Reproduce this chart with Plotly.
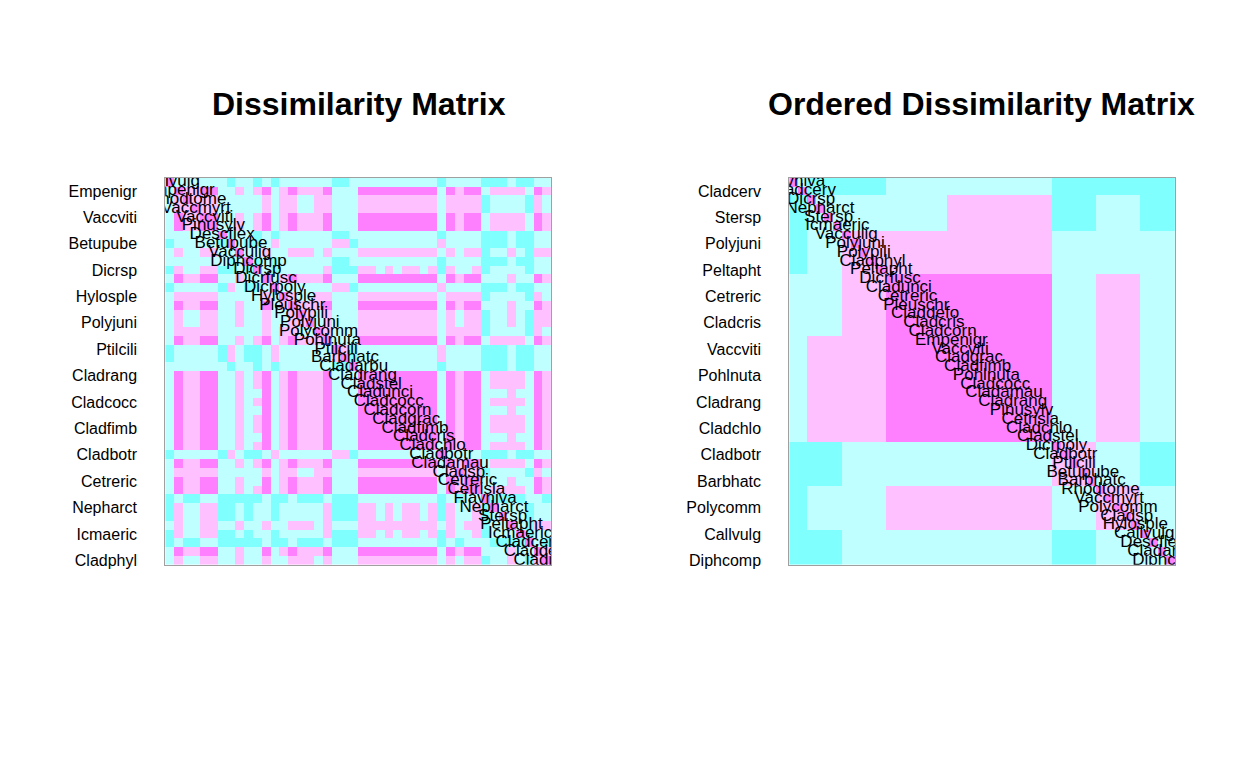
import numpy as np
import plotly.graph_objects as go

# species in original (varespec) order
species = ["Callvulg", "Empenigr", "Rhodtome", "Vaccmyrt", "Vaccviti", "Pinusylv", "Descflex",
           "Betupube", "Vacculig", "Diphcomp", "Dicrsp", "Dicrfusc", "Dicrpoly", "Hylosple",
           "Pleuschr", "Polypili", "Polyjuni", "Polycomm", "Pohlnuta", "Ptilcili", "Barbhatc",
           "Cladarbu", "Cladrang", "Cladstel", "Cladunci", "Cladcocc", "Cladcorn", "Cladgrac",
           "Cladfimb", "Cladcris", "Cladchlo", "Cladbotr", "Cladamau", "Cladsp", "Cetreric",
           "Cetrisla", "Flavniva", "Nepharct", "Stersp", "Peltapht", "Icmaeric", "Cladcerv",
           "Claddefo", "Cladphyl"]

# seriated order (right panel)
ordered = ["Flavniva", "Cladcerv", "Dicrsp", "Nepharct", "Stersp", "Icmaeric", "Vacculig",
           "Polyjuni", "Polypili", "Cladphyl", "Peltapht", "Dicrfusc", "Cladunci", "Cetreric",
           "Pleuschr", "Claddefo", "Cladcris", "Cladcorn", "Empenigr", "Vaccviti", "Cladgrac",
           "Cladfimb", "Pohlnuta", "Cladcocc", "Cladamau", "Cladrang", "Pinusylv", "Cetrisla",
           "Cladchlo", "Cladstel", "Dicrpoly", "Cladbotr", "Ptilcili", "Betupube", "Barbhatc",
           "Rhodtome", "Vaccmyrt", "Polycomm", "Cladsp", "Hylosple", "Callvulg", "Descflex",
           "Cladarbu", "Diphcomp"]

# cluster of each species in the ordered list, and dissimilarity class between clusters
# (0 = very similar ... 3 = very dissimilar)
cluster_sizes = [2, 4, 5, 7, 12, 5, 5, 4]
cluster_levels = [
    [2, 3, 3, 2, 2, 3, 3, 3],
    [3, 2, 2, 2, 1, 3, 2, 3],
    [3, 2, 1, 1, 1, 2, 2, 2],
    [2, 2, 1, 0, 0, 2, 1, 2],
    [2, 1, 1, 0, 0, 2, 1, 2],
    [3, 3, 2, 2, 2, 1, 2, 3],
    [3, 2, 2, 1, 1, 2, 1, 2],
    [3, 3, 2, 2, 2, 3, 2, 2],
]

colors = ["#FF80FF", "#FFC0FF", "#C0FFFF", "#80FFFF"]

n = len(ordered)
cl = np.repeat(np.arange(len(cluster_sizes)), cluster_sizes)
lev = np.array(cluster_levels)
D_ord = lev[cl][:, cl].astype(float)
np.fill_diagonal(D_ord, 0)

pos = {s: i for i, s in enumerate(ordered)}
idx = [pos[s] for s in species]
D_orig = D_ord[np.ix_(idx, idx)]

cs = []
for k, c in enumerate(colors):
    cs.append([k / 4, c])
    cs.append([(k + 1) / 4, c])

fig = go.Figure()
panels = [(D_orig, species, "x", "y"), (D_ord, ordered, "x2", "y2")]
for D, names, xa, ya in panels:
    fig.add_trace(go.Heatmap(z=D, x=list(range(n)), y=list(range(n)), zmin=-0.5, zmax=3.5,
                             colorscale=cs, showscale=False, xaxis=xa, yaxis=ya,
                             hoverinfo="skip"))
    fig.add_trace(go.Scatter(x=np.arange(n), y=np.arange(n), mode="text", text=names,
                             textposition="middle center", textfont=dict(size=17, color="black",
                             family="Arial"), xaxis=xa, yaxis=ya, cliponaxis=True,
                             showlegend=False, hoverinfo="skip"))

tick_idx = list(range(1, n, 3))
for i, (dom, names) in enumerate([([0.126, 0.435], species), ([0.626, 0.935], ordered)]):
    sfx = "" if i == 0 else "2"
    fig.update_layout(**{
        "xaxis" + sfx: dict(domain=dom, range=[-0.5, n - 0.5], showticklabels=False,
                            showgrid=False, zeroline=False, ticks="", showline=True,
                            linecolor="#A0A0A0", mirror=True, anchor="y" + sfx),
        "yaxis" + sfx: dict(domain=[0.275, 0.779], range=[n - 0.5, -0.5], showgrid=False,
                            zeroline=False, tickvals=tick_idx,
                            ticktext=[names[k] for k in tick_idx], ticks="",
                            ticklabelstandoff=24, showline=True, linecolor="#A0A0A0",
                            mirror=True, tickfont=dict(size=16, color="black"),
                            anchor="x" + sfx),
    })

for xc, t in [(0.281, "Dissimilarity Matrix"), (0.780, "Ordered Dissimilarity Matrix")]:
    fig.add_annotation(x=xc, y=0.875, xref="paper", yref="paper", text="<b>" + t + "</b>",
                       xanchor="center", yanchor="middle", showarrow=False,
                       font=dict(size=32, color="black", family="Arial"))

fig.update_layout(width=1248, height=768,
                  margin=dict(l=0, r=0, t=0, b=0, autoexpand=False),
                  plot_bgcolor="white", paper_bgcolor="white",
                  font=dict(family="Arial"))
fig.write_html("out.html")
